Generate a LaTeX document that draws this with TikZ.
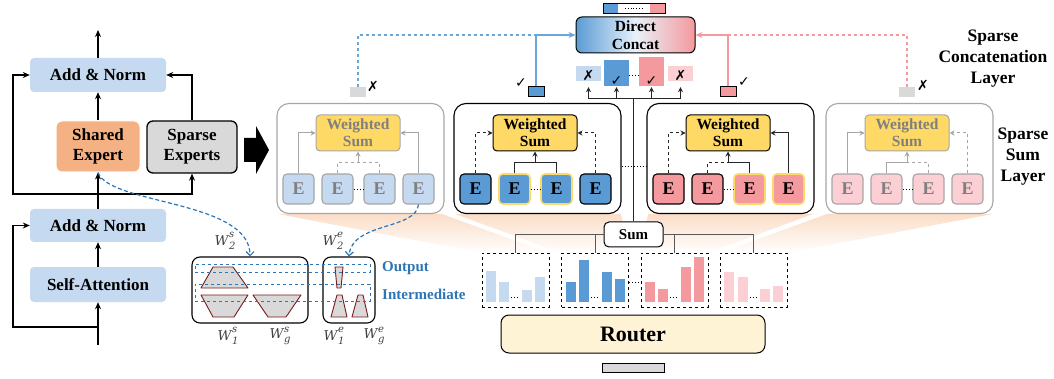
\documentclass[tikz,border=0pt]{standalone}
\usepackage{graphicx}
\usepackage{fontspec}
\setmainfont{Liberation Serif}
\newfontfamily\dejavu{DejaVu Sans}
\newfontfamily\wfont{DejaVu Serif}
\usetikzlibrary{arrows.meta,calc}
\definecolor{lblue}{HTML}{C5DAF0}
\definecolor{mblue}{HTML}{5B9BD5}
\definecolor{dblue}{HTML}{2E75B6}
\definecolor{mpink}{HTML}{F4999D}
\definecolor{lpink}{HTML}{FBCFD3}
\definecolor{wsyel}{HTML}{FFD966}
\definecolor{shorange}{HTML}{F4B183}
\definecolor{lgray}{HTML}{D9D9D9}
\definecolor{cream}{HTML}{FFF3D6}
\definecolor{peach}{HTML}{FBDDC8}
\definecolor{fadegray}{HTML}{A6A6A6}
\definecolor{fadetext}{HTML}{7F7F7F}
\definecolor{gold}{HTML}{FFD966}
\definecolor{trapred}{HTML}{7B1A1A}
\definecolor{sumline}{HTML}{595959}
\definecolor{wtext}{HTML}{404040}
\newcommand{\ckmk}{{\dejavu ✓}}
\newcommand{\crmk}{{\dejavu ✗}}
\newcommand{\wl}[2]{{\wfont\itshape W\kern0.6pt\raisebox{-4pt}{\fontsize{10}{10}\selectfont\shortstack[l]{#2\\[1pt]#1}}}}
\newcommand{\spbox}[8]{%
 \node[#3] (#1) at (#2+83.5,158.5) {};
 \node[#4] (#1w) at (#2+81,133) {Weighted\\Sum};
 \node[#5] (#1e1) at (#2+21.5,189) {E};
 \node[#6] (#1e2) at (#2+60.5,189) {E};
 \node[#7] (#1e3) at (#2+102.5,189) {E};
 \node[#8] (#1e4) at (#2+141.5,189) {E};
 \coordinate (#1j) at (#2+81,163);
 \draw[cA] (#1e1.north) |- (#1w.west);
 \draw[cB] (#1e4.north) |- (#1w.east);
 \draw[cC] (#1e2.north) |- (#1j);
 \draw[cD] (#1e3.north) |- (#1j);
 \draw[cJ] (#1j) -- (#1w.south);
 \draw[dotted, line width=1pt] ([yshift=-1pt]#1e2.east) -- ([yshift=-1pt]#1e3.west);
}
\begin{document}
\begin{tikzpicture}[x=1pt,y=-1pt,
  arr/.style={-{Stealth[length=7pt,width=6pt]}, line width=1.3pt},
  blk/.style={line width=1.3pt},
  lbox/.style={rectangle, rounded corners=4pt, fill=lblue, inner sep=0pt, minimum width=136pt, align=center, font=\bfseries\fontsize{17}{20}\selectfont},
  shbox/.style={rectangle, rounded corners=6pt, fill=shorange, draw=white, line width=1pt, inner sep=0pt, minimum width=84pt, minimum height=51pt, align=center, font=\bfseries\fontsize{17}{20}\selectfont},
  spxbox/.style={rectangle, rounded corners=6pt, fill=lgray, draw, line width=1.3pt, inner sep=0pt, minimum width=90pt, minimum height=52pt, align=center, font=\bfseries\fontsize{17}{20}\selectfont},
  bdash/.style={draw=dblue, line width=1.2pt, dash pattern=on 4pt off 2.5pt, -{Straight Barb[length=4pt,width=8pt]}},
  detbox/.style={draw, rounded corners=8pt, line width=1.1pt, inner sep=0pt, minimum height=66pt},
  trap/.style={fill=lgray, draw=trapred, line width=0.9pt, line join=round},
  drect/.style={draw=dblue, dashed, line width=0.9pt, inner sep=0pt, minimum width=175pt},
  olab/.style={text=dblue, font=\bfseries\fontsize{15}{17}\selectfont, inner sep=0pt},
  wlab/.style={text=wtext, font=\fontsize{13.5}{13.5}\selectfont, inner sep=0pt},
  sbox/.style={draw, rounded corners=12pt, line width=1.1pt, minimum width=167pt, minimum height=110pt, inner sep=0pt},
  sboxf/.style={sbox, draw=fadegray},
  ws/.style={draw, fill=wsyel, rounded corners=4pt, line width=1pt, minimum width=84pt, minimum height=36pt, inner sep=0pt, align=center, font=\bfseries\fontsize{15.5}{17}\selectfont},
  wsf/.style={ws, draw=fadegray, text=fadetext},
  ebox/.style={draw, rounded corners=4pt, line width=1.1pt, minimum width=31pt, minimum height=30pt, inner sep=0pt, font=\bfseries\fontsize{18}{18}\selectfont},
  eAf/.style={ebox, fill=lblue, draw=fadegray, text=fadetext},
  eDf/.style={ebox, fill=lpink, draw=fadegray, text=fadetext},
  eB/.style={ebox, fill=mblue},
  eBy/.style={ebox, fill=mblue, draw=gold, line width=1.6pt},
  eC/.style={ebox, fill=mpink},
  eCy/.style={ebox, fill=mpink, draw=gold, line width=1.6pt},
  gsol/.style={draw=fadegray, line width=1pt},
  garr/.style={gsol, -{Stealth[length=5pt,width=5pt]}},
  gdash/.style={gsol, dashed},
  gdarr/.style={garr, dashed},
  ksol/.style={draw=black!85, line width=1pt},
  karr/.style={ksol, -{Stealth[length=5pt,width=5pt]}},
  kdash/.style={ksol, dashed},
  kdarr/.style={karr, dashed},
  gate/.style={minimum width=16pt, minimum height=10pt, inner sep=0pt},
  mk/.style={font=\fontsize{14}{14}\selectfont, inner sep=0pt},
  bline/.style={draw=mblue!90, line width=1.3pt},
  pline/.style={draw=mpink, line width=1.3pt},
  sq/.style={minimum width=25pt, inner sep=0pt},
  sqmk/.style={mk, anchor=south, inner sep=0.5pt},
  sumn/.style={draw, fill=white, rounded corners=5pt, line width=1pt, minimum width=59pt, minimum height=25pt, inner sep=0pt, font=\bfseries\fontsize{15}{15}\selectfont},
  sline/.style={draw=sumline, line width=1pt},
  hbox/.style={draw, dashed, line width=0.9pt, minimum width=67pt, minimum height=54pt, inner sep=0pt},
  rlab/.style={align=center, inner sep=0pt, font=\bfseries\fontsize{17.5}{21}\selectfont}
]
\useasboundingbox (0,0) rectangle (1054,379);

% peach fans
\shade[top color=peach, bottom color=white] (278,214) -- (442,214) -- (549,253) -- (482,253) -- cycle;
\shade[top color=peach, bottom color=white] (455,214) -- (621,214) -- (629,253) -- (561,253) -- cycle;
\shade[top color=peach, bottom color=white] (648,214) -- (813,214) -- (708,253) -- (641,253) -- cycle;
\shade[top color=peach, bottom color=white] (827,214) -- (993,214) -- (787,253) -- (720,253) -- cycle;

% ---------- left transformer block ----------
\node[lbox, minimum height=34pt] (an1) at (98,75) {Add \& Norm};
\node[shbox] (sh) at (98,146.5) {Shared\\Expert};
\node[spxbox] (spx) at (192,147) {Sparse\\Experts};
\node[lbox, minimum height=33pt] (an2) at (98,225.5) {Add \& Norm};
\node[lbox, minimum height=35pt] (sa) at (98,284.5) {Self-Attention};
\coordinate (outp) at (98,30);
\coordinate (sp1) at (98,194);
\coordinate (inp) at (98,345);
\coordinate (sp2) at (98,327);
\draw[arr] (an1.north) -- (outp);
\draw[arr] (sh.north) -- (an1.south);
\draw[arr] (spx.north) |- (an1.east);
\draw[blk] (an2.north) -- (sp1);
\draw[arr] (sp1) -- (sh.south);
\draw[arr] (sp1) -| (spx.south);
\draw[arr] (sp1) -- ++(-85,0) |- (an1.west);
\draw[arr] (inp) -- (sa.south);
\draw[arr] (sp2) -- ++(-85,0) |- (an2.west);
\draw[arr] (sa.north) -- (an2.south);

% big arrow
\fill (244,138) -- (256,138) -- (256,126) -- (269,150) -- (256,174) -- (256,162) -- (244,162) -- cycle;

% ---------- detail of expert weights ----------
\node[detbox, minimum width=116pt] (det1) at (250,290) {};
\node[detbox, minimum width=52pt] (det2) at (349,290) {};
\draw[trap] (213,267) -- (233,267) -- (248,288) -- (201,288) -- cycle;
\draw[trap] (201,295) -- (248,295) -- (234,317) -- (213,317) -- cycle;
\draw[trap] (253,295) -- (301,295) -- (286,317) -- (268,317) -- cycle;
\draw[trap] (335,267) -- (343,267) -- (341,288) -- (337,288) -- cycle;
\draw[trap] (337,295) -- (342,295) -- (347,317) -- (331,317) -- cycle;
\draw[trap] (358,295) -- (363,295) -- (368,317) -- (352,317) -- cycle;
\node[drect, minimum height=8pt] (orect) at (282.5,268) {};
\node[drect, minimum height=17pt] (irect) at (282.5,292.5) {};
\node[olab, anchor=west] (olabel) at (382,268) {Output};
\node[olab, anchor=west] (ilabel) at (382,294) {Intermediate};
\node[wlab] (lw2s) at (225,241) {\wl{2}{s}};
\node[wlab] (lw2e) at (333,241) {\wl{2}{e}};
\node[wlab] (lw1s) at (228,336) {\wl{1}{s}};
\node[wlab] (lwgs) at (280,336) {\wl{g}{s}};
\node[wlab] (lw1e) at (334,336) {\wl{1}{e}};
\node[wlab] (lwge) at (374,336) {\wl{g}{e}};

% ---------- sparse sum layer ----------
\tikzset{cA/.style=garr, cB/.style=garr, cC/.style=gdash, cD/.style=gdash, cJ/.style=garr}
\spbox{A}{277}{sboxf}{wsf}{eAf}{eAf}{eAf}{eAf}
\tikzset{cA/.style=kdarr, cB/.style=kdarr, cC/.style=ksol, cD/.style=ksol, cJ/.style=karr}
\spbox{B}{454}{sbox}{ws}{eB}{eBy}{eBy}{eB}
\tikzset{cA/.style=kdarr, cB/.style=karr, cC/.style=kdash, cD/.style=ksol, cJ/.style=karr}
\spbox{C}{647}{sbox}{ws}{eC}{eC}{eCy}{eCy}
\tikzset{cA/.style=garr, cB/.style=gdarr, cC/.style=gsol, cD/.style=gdash, cJ/.style=garr}
\spbox{D}{826}{sboxf}{wsf}{eDf}{eDf}{eDf}{eDf}
\draw[dotted, line width=1pt] ([yshift=-8.5pt]B.east) -- ([yshift=-8.5pt]C.west);

% curves
\draw[bdash] (sh.south) .. controls (110,205) and (250,200) .. (det1.north);
\draw[bdash] (Ae4.south) .. controls (416,230) and (352,222) .. (det2.north);

% ---------- concatenation layer ----------
\node[draw, line width=1pt, rounded corners=6pt, minimum width=119pt, minimum height=36pt, inner sep=0pt, align=center,
      left color=mblue, right color=mpink, middle color=white!86!mblue,
      font=\bfseries\fontsize{15.5}{18}\selectfont] (dc) at (635.5,35) {Direct\\Concat};
\node[draw, line width=0.9pt, minimum width=62pt, minimum height=10pt, inner sep=0pt,
      path picture={
        \fill[mblue] (path picture bounding box.north west) rectangle ([xshift=15pt]path picture bounding box.south west);
        \fill[mpink] (path picture bounding box.north east) rectangle ([xshift=-15pt]path picture bounding box.south east);
        \draw[dotted, line width=0.8pt] ([xshift=22pt]path picture bounding box.west) -- ([xshift=41pt]path picture bounding box.west);
      }] (tbar) at (634,8) {};

\node[gate, fill=lgray] (gA) at (358,92) {};
\node[gate, fill=mblue, draw, line width=0.9pt] (gB) at (536,91.5) {};
\node[gate, fill=mpink, draw, line width=0.9pt] (gC) at (728,91.5) {};
\node[gate, fill=lgray] (gD) at (907,92) {};
\node[mk] (mA) at (373,86) {\crmk};
\node[mk] (mB) at (521,83) {\ckmk};
\node[mk] (mC) at (744,82) {\ckmk};
\node[mk] (mD) at (923,85) {\crmk};
\coordinate (jB) at (536,35);
\coordinate (jC) at (728,35);
\draw[bline, dashed] (gA.north) |- (jB);
\draw[bline] (gB.north) -- (jB);
\draw[bline, -{Stealth[length=7pt,width=6pt]}] (jB) -- (dc.west);
\draw[pline, dashed] (gD.north) |- (jC);
\draw[pline] (gC.north) -- (jC);
\draw[pline, -{Stealth[length=7pt,width=6pt]}] (jC) -- (dc.east);

\node[sq, fill=lblue, minimum height=15pt, label={[sqmk]south:\crmk}] (s1) at (588.5,73.5) {};
\node[sq, fill=mblue, minimum height=26pt, label={[sqmk]south:\ckmk}] (s2) at (616.5,73) {};
\node[sq, fill=mpink, minimum height=29pt, label={[sqmk]south:\ckmk}] (s3) at (651.5,71.5) {};
\node[sq, fill=lpink, minimum height=15pt, label={[sqmk]south:\crmk}] (s4) at (680.5,73.5) {};
\draw[dotted, line width=1pt] ([yshift=-3pt]s2.east) -- ([yshift=-4.5pt]s3.west);

% ---------- router and sum ----------
\node[sumn] (sum) at (633.5,234.5) {Sum};
\coordinate (hub) at (633.5,99);
\draw[ksol] (sum.north) -- (hub);
\draw[karr, shorten >=6pt] (hub) -| (s1.south);
\draw[karr, shorten >=1pt] (hub) -| (s2.south);
\draw[karr, shorten >=1pt] (hub) -| (s3.south);
\draw[karr, shorten >=6pt] (hub) -| (s4.south);

\node[hbox] (h1) at (515.5,280) {};
\node[hbox] (h2) at (595,280) {};
\node[hbox] (h3) at (674.5,280) {};
\node[hbox] (h4) at (753.5,280) {};
\draw[sline] (sum.west) -| (h1.north);
\draw[sline] (sum.west -| h2.north) -- (h2.north);
\draw[sline] (sum.east) -| (h4.north);
\draw[sline] (sum.east -| h3.north) -- (h3.north);
\draw[dotted, line width=1pt] ([yshift=-2pt]h2.east) -- ([yshift=-2pt]h3.west);

% bars
\fill[lblue] (486,271) rectangle (496,302);
\fill[lblue] (499,282) rectangle (509,302);
\fill[lblue] (522,290) rectangle (532,302);
\fill[lblue] (535,277) rectangle (545,302);
\fill[mblue] (566,282) rectangle (576,302);
\fill[mblue] (579,260) rectangle (589,302);
\fill[mblue] (602,272) rectangle (612,302);
\fill[mblue] (615,279) rectangle (625,302);
\fill[mpink] (645,282) rectangle (655,302);
\fill[mpink] (658,289) rectangle (668,302);
\fill[mpink] (681,267) rectangle (691,302);
\fill[mpink] (694,257) rectangle (704,302);
\fill[lpink] (724,272) rectangle (734,302);
\fill[lpink] (738,277) rectangle (748,302);
\fill[lpink] (760,289) rectangle (770,302);
\fill[lpink] (773,286) rectangle (783,302);
\draw[dotted, line width=1pt] (511,297) -- (520,297);
\draw[dotted, line width=1pt] (591,297) -- (600,297);
\draw[dotted, line width=1pt] (670,297) -- (679,297);
\draw[dotted, line width=1pt] (750,297) -- (758,297);

\node[draw, fill=cream, rounded corners=8pt, line width=1pt, minimum width=264pt, minimum height=38pt, inner sep=0pt,
      font=\bfseries\fontsize{22}{22}\selectfont] (router) at (633,334) {Router};
\node[draw, fill=lgray, line width=0.9pt, minimum width=62pt, minimum height=9pt, inner sep=0pt] (ibar) at (633,367.5) {};

% ---------- right labels ----------
\node[rlab] (lcat) at (993,59) {Sparse\\Concatenation\\Layer};
\node[rlab] (lsum) at (1023,157) {Sparse\\Sum\\Layer};
\end{tikzpicture}
\end{document}
